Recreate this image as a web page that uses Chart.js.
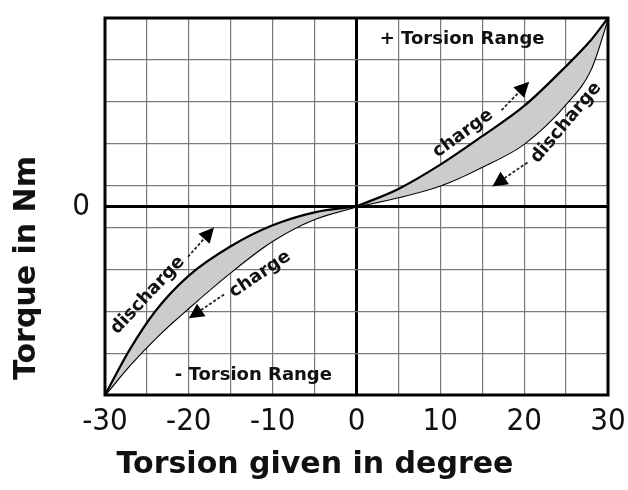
<!DOCTYPE html>
<html>
<head>
<meta charset="utf-8">
<script src="https://cdn.jsdelivr.net/npm/chart.js@4.4.0/dist/chart.umd.min.js"></script>
<style>
    html, body { margin: 0; padding: 0; background: #fff; }
    #wrap { width: 628px; height: 490px; }
</style>
</head>
<body>
<div id="wrap"><canvas id="torsionCanvas" width="628" height="490"></canvas></div>
<script>
    // data
    var posX = [0, 5, 10, 15, 20, 25, 28, 30];
    var chargePos = [0, 0.42, 1.0, 1.68, 2.4, 3.35, 3.98, 4.5];
    var dischargePos = [0, 0.22, 0.5, 0.95, 1.5, 2.45, 3.3, 4.5];

    var negX = [-30, -27, -24, -20, -15, -10, -5, 0];
    var dischargeNeg = [-4.5, -3.4, -2.5, -1.65, -0.95, -0.45, -0.14, 0];
    var chargeNeg = [-4.5, -3.78, -3.15, -2.42, -1.57, -0.82, -0.3, 0];

    var xTickLabels = [-30, -20, -10, 0, 10, 20, 30];
    var yGridValues = [-4.5, -3.5, -2.5, -1.5, -0.5, 0, 0.5, 1.5, 2.5, 3.5, 4.5];
    var yTickLabels = [0];

    var xTitle = 'Torsion given in degree';
    var yTitle = 'Torque in Nm';

    var toPoints = function (xs, ys) {
        return xs.map(function (x, i) {
            return { x: x, y: ys[i] };
        });
    };

    // 說明文字 / 箭頭 (data units)
    var notes = [
        { text: '+ Torsion Range', x: 12.6, y: 4.0, angle: 0, size: 18 },
        { text: '- Torsion Range', x: -12.3, y: -4.03, angle: 0, size: 18 },
        { text: 'charge', x: 12.7, y: 1.74, angle: -36, size: 18 },
        { text: 'discharge', x: 25.0, y: 2.0, angle: -50, size: 18 },
        { text: 'discharge', x: -24.9, y: -2.12, angle: -47, size: 18 },
        { text: 'charge', x: -11.5, y: -1.62, angle: -34, size: 18 }
    ];
    var arrows = [
        { from: [17.3, 2.3], to: [20.6, 2.98] },
        { from: [20.4, 1.05], to: [16.2, 0.48] },
        { from: [-20.1, -1.2], to: [-17.0, -0.5] },
        { from: [-15.8, -2.1], to: [-20.0, -2.67] }
    ];

    var boldFont = '"DejaVu Sans", Verdana, sans-serif';
    var tickFont = '"DejaVu Sans Condensed", "DejaVu Sans", sans-serif';

    var notesPlugin = {
        id: 'notes',
        beforeDraw: function (chart) {
            var ctx = chart.ctx;
            ctx.save();
            ctx.fillStyle = '#fff';
            ctx.fillRect(0, 0, chart.width, chart.height);
            ctx.restore();
        },
        afterDraw: function (chart) {
            var ctx = chart.ctx;
            var xs = chart.scales.x;
            var ys = chart.scales.y;
            var area = chart.chartArea;

            ctx.save();
            // frame
            ctx.strokeStyle = '#000';
            ctx.lineWidth = 3;
            ctx.strokeRect(area.left, area.top, area.right - area.left, area.bottom - area.top);

            ctx.fillStyle = '#111';
            ctx.textAlign = 'center';
            ctx.textBaseline = 'middle';
            notes.forEach(function (n) {
                ctx.save();
                ctx.translate(xs.getPixelForValue(n.x), ys.getPixelForValue(n.y));
                ctx.rotate(n.angle * Math.PI / 180);
                ctx.font = 'bold ' + n.size + 'px ' + boldFont;
                ctx.fillText(n.text, 0, 0);
                ctx.restore();
            });

            arrows.forEach(function (a) {
                var x1 = xs.getPixelForValue(a.from[0]), y1 = ys.getPixelForValue(a.from[1]);
                var x2 = xs.getPixelForValue(a.to[0]), y2 = ys.getPixelForValue(a.to[1]);
                var ang = Math.atan2(y2 - y1, x2 - x1);
                var head = 15;
                var bx = x2 - Math.cos(ang) * head, by = y2 - Math.sin(ang) * head;
                ctx.save();
                ctx.strokeStyle = '#222';
                ctx.lineWidth = 1.8;
                ctx.setLineDash([3, 2]);
                ctx.beginPath();
                ctx.moveTo(x1, y1);
                ctx.lineTo(bx, by);
                ctx.stroke();
                ctx.setLineDash([]);
                ctx.fillStyle = '#000';
                ctx.beginPath();
                ctx.moveTo(x2, y2);
                ctx.lineTo(bx + Math.sin(ang) * 7.5, by - Math.cos(ang) * 7.5);
                ctx.lineTo(bx - Math.sin(ang) * 7.5, by + Math.cos(ang) * 7.5);
                ctx.closePath();
                ctx.fill();
                ctx.restore();
            });

            // axis titles
            ctx.fillStyle = '#111';
            ctx.font = 'bold 30px ' + boldFont;
            ctx.textAlign = 'center';
            ctx.textBaseline = 'middle';
            ctx.fillText(xTitle, 315, 465);
            ctx.save();
            ctx.translate(27, 268);
            ctx.rotate(-Math.PI / 2);
            ctx.fillText(yTitle, 0, 0);
            ctx.restore();
            ctx.restore();
        }
    };

    var lineStyle = {
        borderColor: '#000',
        borderWidth: 2.2,
        pointRadius: 0,
        cubicInterpolationMode: 'monotone',
        backgroundColor: '#cccccc'
    };

    var gridColor = function (c) { return c.tick && c.tick.value === 0 ? '#000' : '#7a7a7a'; };
    var gridWidth = function (c) { return c.tick && c.tick.value === 0 ? 3 : 1.2; };

    window.onload = function () {
        var ctx = document.getElementById('torsionCanvas').getContext('2d');
        window.myChart = new Chart(ctx, {
            type: 'line',
            data: {
                datasets: [
                    Object.assign({ label: 'charge +', data: toPoints(posX, chargePos), fill: '+1' }, lineStyle),
                    Object.assign({ label: 'discharge +', data: toPoints(posX, dischargePos), fill: false }, lineStyle),
                    Object.assign({ label: 'discharge -', data: toPoints(negX, dischargeNeg), fill: '+1' }, lineStyle),
                    Object.assign({ label: 'charge -', data: toPoints(negX, chargeNeg), fill: false }, lineStyle)
                ]
            },
            options: {
                responsive: false,
                animation: false,
                layout: { padding: { left: 0, right: 20, top: 18, bottom: 0 } },
                plugins: {
                    legend: { display: false },
                    tooltip: { enabled: false }
                },
                scales: {
                    x: {
                        type: 'linear',
                        min: -30,
                        max: 30,
                        afterFit: function (scale) {
                            scale.height = 95;
                            scale.paddingLeft = 0;
                            scale.paddingRight = 0;
                        },
                        border: { display: false },
                        grid: { drawTicks: false, color: gridColor, lineWidth: gridWidth },
                        ticks: {
                            stepSize: 5,
                            padding: 8,
                            autoSkip: false,
                            maxRotation: 0,
                            minRotation: 0,
                            color: '#111',
                            font: { family: tickFont, size: 31 },
                            callback: function (v) { return xTickLabels.indexOf(v) >= 0 ? String(v) : ''; }
                        }
                    },
                    y: {
                        type: 'linear',
                        min: -4.5,
                        max: 4.5,
                        afterBuildTicks: function (scale) {
                            scale.ticks = yGridValues.map(function (v) { return { value: v }; });
                        },
                        afterFit: function (scale) {
                            scale.width = 105;
                            scale.paddingTop = 0;
                            scale.paddingBottom = 0;
                        },
                        border: { display: false },
                        grid: { drawTicks: false, color: gridColor, lineWidth: gridWidth },
                        ticks: {
                            padding: 15,
                            autoSkip: false,
                            color: '#111',
                            font: { family: tickFont, size: 31 },
                            callback: function (v) { return yTickLabels.indexOf(v) >= 0 ? String(v) : ''; }
                        }
                    }
                }
            },
            plugins: [notesPlugin]
        });
    };
</script>
</body>
</html>
